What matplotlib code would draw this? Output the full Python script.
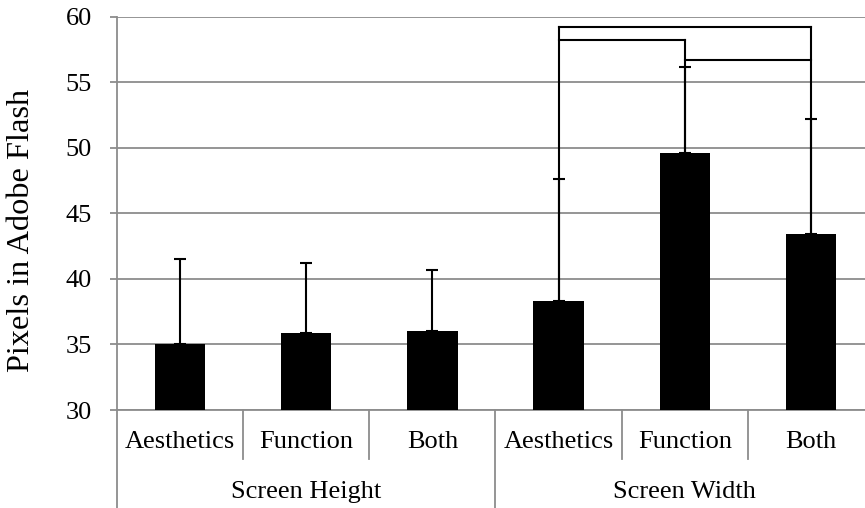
import matplotlib
matplotlib.use("Agg")
import matplotlib.pyplot as plt
import matplotlib.transforms as mtransforms
import numpy as np

plt.rcParams['font.family'] = ['Liberation Serif', 'DejaVu Serif']

groups = ["Screen Height", "Screen Width"]
conditions = ["Aesthetics", "Function", "Both"]
means = [35.0, 35.9, 36.0, 38.3, 49.6, 43.4]
err_upper = [6.5, 5.3, 4.7, 9.3, 6.6, 8.8]
# significance brackets: (bar index a, bar index b, level)
brackets = [(3, 5, 59.2), (3, 4, 58.2), (4, 5, 56.7)]
yticks = [30, 35, 40, 45, 50, 55, 60]

W, H = 865, 508
fig = plt.figure(figsize=(W / 100, H / 100), dpi=100)
left_px, right_px, top_px, bot_px = 117, 874, 16.7, 410
ax = fig.add_axes([left_px / W, (H - bot_px) / H, (right_px - left_px) / W, (bot_px - top_px) / H])

n = len(means)
x = np.arange(n)
grid_c = '#8c8c8c'

ax.set_ylim(30, 60)
ax.set_xlim(-0.5, n - 0.5)
ax.set_yticks(yticks)
ax.yaxis.grid(True, color=grid_c, lw=1.3)
ax.set_axisbelow(True)
for s in ['top', 'right']:
    ax.spines[s].set_visible(False)
for s in ['left', 'bottom']:
    ax.spines[s].set_color(grid_c)
    ax.spines[s].set_linewidth(1.3)
ax.tick_params(axis='y', direction='out', length=5, width=1.3, color=grid_c, labelsize=19, pad=13)
ax.tick_params(axis='x', length=0, labelbottom=False)

ax.bar(x, means, width=0.4, color='black', zorder=3)
ax.errorbar(x, means, yerr=[np.zeros(n), err_upper], fmt='none', ecolor='black',
            elinewidth=1.5, capsize=4.5, capthick=1.5, zorder=4)

# significance brackets
top_level = {}
for a, b, lvl in brackets:
    ax.plot([x[a], x[b]], [lvl, lvl], color='black', lw=1.5, zorder=5, solid_capstyle='projecting')
    top_level[a] = max(top_level.get(a, 0), lvl)
    top_level[b] = max(top_level.get(b, 0), lvl)
for i, lvl in top_level.items():
    ax.plot([x[i], x[i]], [means[i], lvl], color='black', lw=1.5, zorder=5)

fig.text(22 / W, 1 - 230 / H, "Pixels in Adobe Flash", rotation=90, ha='center', va='center', fontsize=23.3)

# hierarchical category axis
trans = mtransforms.blended_transform_factory(ax.transData, ax.transAxes)
ax_h = bot_px - top_px
inner_y = (bot_px - 441.7) / ax_h
outer_y = (bot_px - 491.7) / ax_h
inner_div = (bot_px - 459) / ax_h
outer_div = (bot_px - 520) / ax_h
for i in range(n):
    ax.text(x[i], inner_y, conditions[i % 3], transform=trans, ha='center', va='center', fontsize=19)
for i in range(1, n):
    yd = outer_div if i % 3 == 0 else inner_div
    ax.plot([i - 0.5, i - 0.5], [0, yd], transform=trans, color=grid_c, lw=1.3, clip_on=False)
ax.plot([-0.5, -0.5], [0, outer_div], transform=trans, color=grid_c, lw=1.3, clip_on=False)
for g, name in enumerate(groups):
    ax.text(g * 3 + 1, outer_y, name, transform=trans, ha='center', va='center', fontsize=19)

fig.savefig("out.png", dpi=100)
